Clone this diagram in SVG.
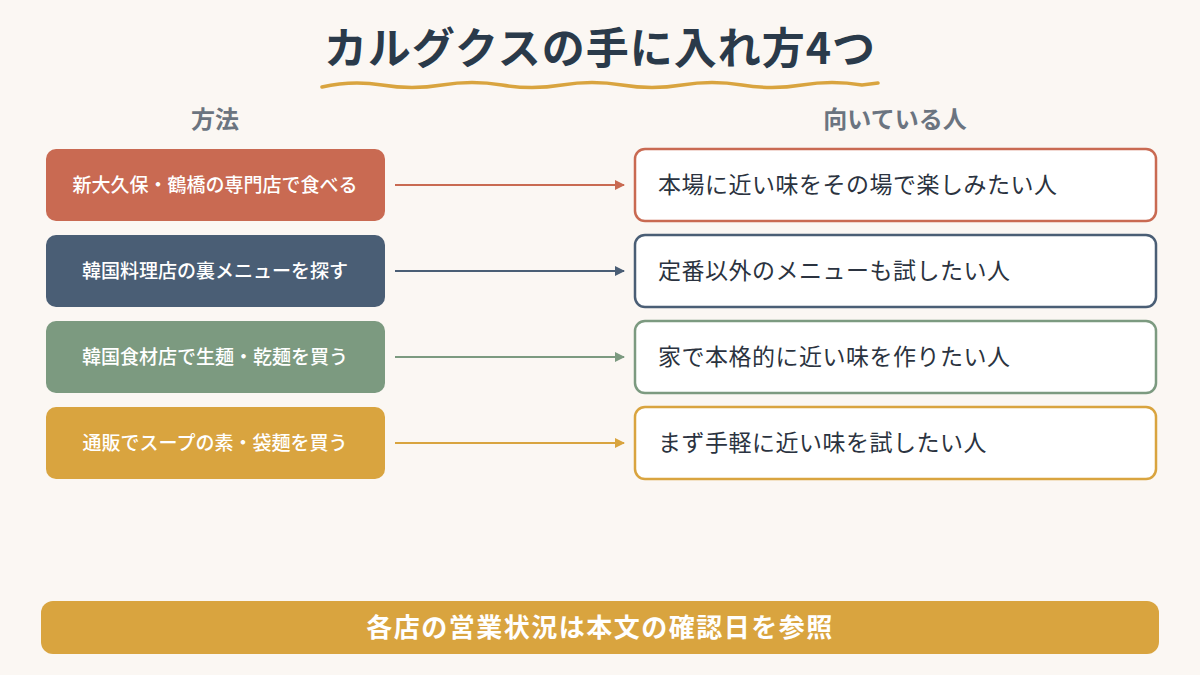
<svg xmlns="http://www.w3.org/2000/svg" width="1200" height="675" viewBox="0 0 1200 675">
<defs>
<style>
text{font-family:"Noto Sans CJK JP","Noto Sans",sans-serif}
.l{fill:#fff;font-size:19px;font-weight:500;text-anchor:middle}
.r{fill:#2b3340;font-size:23px;letter-spacing:0.5px}
.h{fill:#6b7480;font-size:24px;font-weight:700;text-anchor:middle}
.rb{fill:#fff;stroke-width:2.5}
</style>
<marker id="m1" markerWidth="10" markerHeight="10" refX="9" refY="5" orient="auto" markerUnits="userSpaceOnUse"><path d="M0,0L10,5L0,10z" fill="#C96A52"/></marker>
<marker id="m2" markerWidth="10" markerHeight="10" refX="9" refY="5" orient="auto" markerUnits="userSpaceOnUse"><path d="M0,0L10,5L0,10z" fill="#4A5E75"/></marker>
<marker id="m3" markerWidth="10" markerHeight="10" refX="9" refY="5" orient="auto" markerUnits="userSpaceOnUse"><path d="M0,0L10,5L0,10z" fill="#7C9A80"/></marker>
<marker id="m4" markerWidth="10" markerHeight="10" refX="9" refY="5" orient="auto" markerUnits="userSpaceOnUse"><path d="M0,0L10,5L0,10z" fill="#D9A43F"/></marker>
</defs>
<rect width="1200" height="675" fill="#FBF7F3"/>
<text x="600" y="64" text-anchor="middle" font-size="43" font-weight="700" fill="#2a3a4a" letter-spacing="1">カルグクスの手に入れ方4つ</text>
<path d="M322,87 Q352,80 382,85 T442,85 T502,85 T562,85 T622,85 T682,85 T742,85 T802,85 T862,85 L878,83" fill="none" stroke="#D9A43F" stroke-width="3.5" stroke-linecap="round"/>
<text class="h" x="215" y="128">方法</text>
<text class="h" x="895" y="128">向いている人</text>
<g id="connectors" stroke-width="2">
<line x1="395" y1="185" x2="624" y2="185" stroke="#C96A52" marker-end="url(#m1)"/>
<line x1="395" y1="271" x2="624" y2="271" stroke="#4A5E75" marker-end="url(#m2)"/>
<line x1="395" y1="357" x2="624" y2="357" stroke="#7C9A80" marker-end="url(#m3)"/>
<line x1="395" y1="443" x2="624" y2="443" stroke="#D9A43F" marker-end="url(#m4)"/>
</g>
<g id="m-1"><rect x="46" y="149" width="339" height="72" rx="10" fill="#C96A52"/><text class="l" x="215" y="192">新大久保・鶴橋の専門店で食べる</text></g>
<g id="m-2"><rect x="46" y="235" width="339" height="72" rx="10" fill="#4A5E75"/><text class="l" x="215" y="278">韓国料理店の裏メニューを探す</text></g>
<g id="m-3"><rect x="46" y="321" width="339" height="72" rx="10" fill="#7C9A80"/><text class="l" x="215" y="364">韓国食材店で生麺・乾麺を買う</text></g>
<g id="m-4"><rect x="46" y="407" width="339" height="72" rx="10" fill="#D9A43F"/><text class="l" x="215" y="450">通販でスープの素・袋麺を買う</text></g>
<g id="p-1"><rect class="rb" x="635" y="149" width="521" height="72" rx="10" stroke="#C96A52"/><text class="r" x="658" y="193">本場に近い味をその場で楽しみたい人</text></g>
<g id="p-2"><rect class="rb" x="635" y="235" width="521" height="72" rx="10" stroke="#4A5E75"/><text class="r" x="658" y="279">定番以外のメニューも試したい人</text></g>
<g id="p-3"><rect class="rb" x="635" y="321" width="521" height="72" rx="10" stroke="#7C9A80"/><text class="r" x="658" y="365">家で本格的に近い味を作りたい人</text></g>
<g id="p-4"><rect class="rb" x="635" y="407" width="521" height="72" rx="10" stroke="#D9A43F"/><text class="r" x="658" y="451">まず手軽に近い味を試したい人</text></g>
<g id="footer"><rect x="41" y="601" width="1118" height="53" rx="12" fill="#D9A43F"/><text x="600" y="637" text-anchor="middle" font-size="26" font-weight="700" fill="#fff" letter-spacing="1.5">各店の営業状況は本文の確認日を参照</text></g>
</svg>
